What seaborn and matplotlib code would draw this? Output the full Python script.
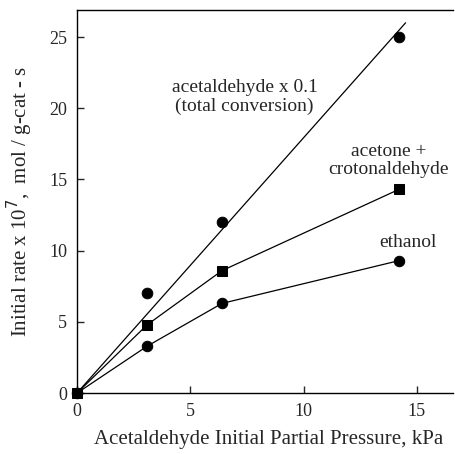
import matplotlib
matplotlib.use("Agg")
import pandas as pd
import seaborn as sns
import matplotlib.pyplot as plt

# data
pressure = [0, 3.1, 6.4, 14.2]
ethanol = [0, 3.3, 6.3, 9.3]
acetone_croton = [0, 4.8, 8.6, 14.3]
acetaldehyde_pts_x = [3.1, 6.4, 14.2]
acetaldehyde_pts_y = [7.0, 12.0, 25.0]
# fitted line through origin for acetaldehyde x 0.1
acetaldehyde_fit_x = [0, 14.5]
acetaldehyde_fit_y = [0, 26.0]

sns.set_style("ticks")
plt.rcParams['font.family'] = ['Liberation Serif', 'DejaVu Serif']

fig = plt.figure(figsize=(4.55, 4.54), dpi=100)
ax = fig.add_axes([0.169, 0.134, 0.827, 0.844])

df_eth = pd.DataFrame({"p": pressure, "r": ethanol})
df_ac = pd.DataFrame({"p": pressure, "r": acetone_croton})
df_fit = pd.DataFrame({"p": acetaldehyde_fit_x, "r": acetaldehyde_fit_y})
df_pts = pd.DataFrame({"p": acetaldehyde_pts_x, "r": acetaldehyde_pts_y})

sns.lineplot(data=df_fit, x="p", y="r", ax=ax, color="black", lw=0.9)
sns.lineplot(data=df_eth, x="p", y="r", ax=ax, color="black", lw=0.9,
             marker="o", markersize=7.5, markeredgecolor="black")
sns.lineplot(data=df_ac, x="p", y="r", ax=ax, color="black", lw=0.9,
             marker="s", markersize=6.5, markeredgecolor="black")
sns.scatterplot(data=df_pts, x="p", y="r", ax=ax, color="black", s=60,
                marker="o", edgecolor="black")
for ln in ax.lines:
    ln.set_clip_on(False)
    ln.set_zorder(5)

ax.text(7.4, 20.8, "acetaldehyde x 0.1\n(total conversion)", ha="center",
        va="center", fontsize=14, linespacing=1.1)
ax.text(13.75, 16.35, "acetone +\ncrotonaldehyde", ha="center", va="center",
        fontsize=14, linespacing=1.1)
ax.text(14.6, 10.6, "ethanol", ha="center", va="center", fontsize=14)

ax.set_xlim(0, 16.6)
ax.set_ylim(0, 26.9)
ax.set_xticks([0, 5, 10, 15])
ax.set_yticks([0, 5, 10, 15, 20, 25])
ax.tick_params(direction="in", length=5, width=1, labelsize=13, pad=7)
ax.spines["right"].set_visible(False)
for s in ["left", "top", "bottom"]:
    ax.spines[s].set_linewidth(1)
    ax.spines[s].set_color("black")

ax.set_xlabel("Acetaldehyde Initial Partial Pressure, kPa", fontsize=15)
ax.xaxis.set_label_coords(0.51, -0.095)
ax.set_ylabel(r"Initial rate x 10$^7$,  mol / g-cat - s", fontsize=15, labelpad=10)

fig.savefig("out.png", dpi=100)
